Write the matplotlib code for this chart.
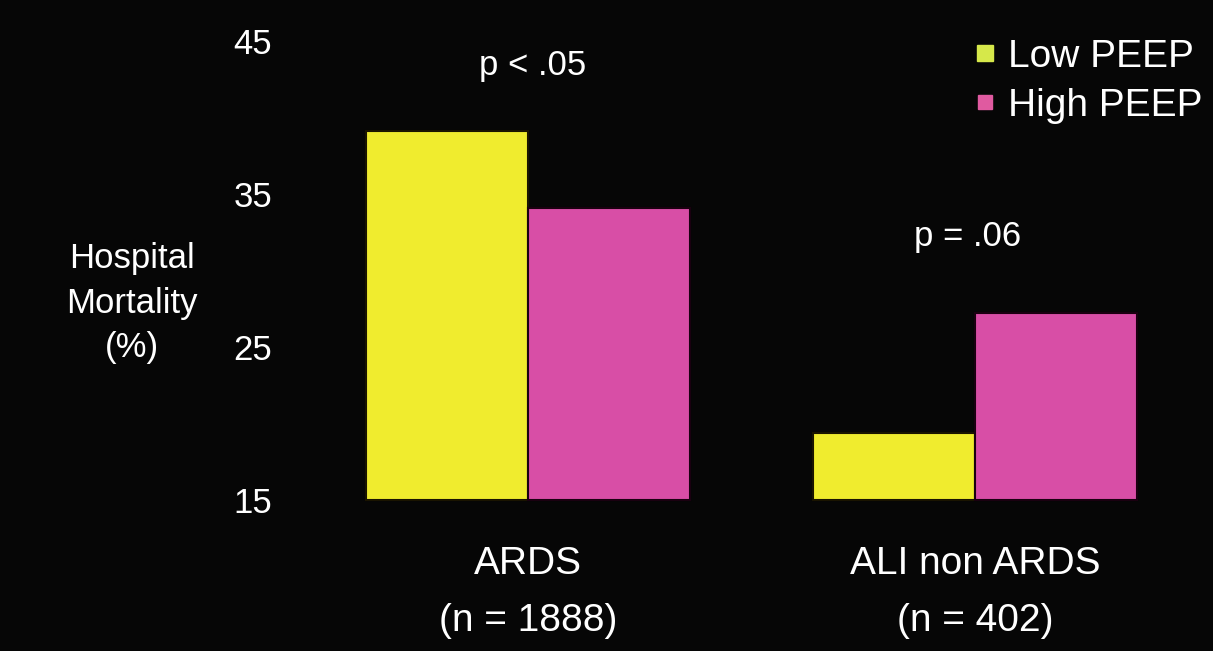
import matplotlib.pyplot as plt
from matplotlib.lines import Line2D
import numpy as np

plt.rcParams["font.family"] = ["Liberation Sans", "DejaVu Sans"]

categories = ["ARDS\n(n = 1888)", "ALI non ARDS\n(n = 402)"]
series_names = ["Low PEEP", "High PEEP"]
low_peep = [39.1, 19.4]
high_peep = [34.1, 27.2]
p_labels = ["p < .05", "p = .06"]
y_ticks = [15, 25, 35, 45]

BG = "#060606"
YELLOW = "#f0ec2e"
PINK = "#d84ea6"
W, H = 1213, 651

fig = plt.figure(figsize=(W / 100, H / 100), dpi=100, facecolor=BG)
# axes: value 15 sits at pixel row 500, value 45 at row 41
ax = fig.add_axes([300 / W, (H - 500) / H, (W - 300) / W, 459 / H])
ax.set_facecolor(BG)

x = np.arange(len(categories))
width = 0.362
base = y_ticks[0]
ax.bar(x - width / 2, np.array(low_peep) - base, width, bottom=base,
       color=YELLOW, edgecolor="#1a1400", linewidth=1.5, clip_on=False)
ax.bar(x + width / 2, np.array(high_peep) - base, width, bottom=base,
       color=PINK, edgecolor="#1a0010", linewidth=1.5, clip_on=False)

ax.set_xlim(-0.51, 1.532)
ax.set_ylim(15, 45)
ax.set_yticks(y_ticks)
ax.set_yticklabels([str(t) for t in y_ticks], color="white", fontsize=25)
ax.tick_params(axis="y", length=0, pad=20)
ax.set_xticks(x)
ax.set_xticklabels(categories, color="white", fontsize=28, linespacing=1.75)
ax.tick_params(axis="x", length=0, pad=33)
for spine in ax.spines.values():
    spine.set_visible(False)

# p-value annotations above each group (baseline offset above the taller bar)
p_offsets = [3.65, 4.4]
p_dx = [0.01, -0.016]
for xi, label, lo, hi, off, dx in zip(x, p_labels, low_peep, high_peep, p_offsets, p_dx):
    ax.text(xi + dx, max(lo, hi) + off, label, ha="center", va="baseline",
            color="white", fontsize=25)

fig.text(132 / W, 1 - 303 / H, "Hospital\nMortality\n(%)", ha="center", va="center",
         color="white", fontsize=25, linespacing=1.45)

handles = [
    Line2D([], [], marker="s", linestyle="none", markersize=11, color="#d6e84a"),
    Line2D([], [], marker="s", linestyle="none", markersize=10, color="#e05aa0"),
]
ax.legend(handles, series_names, loc="upper right",
          bbox_to_anchor=(1203 / W, 1 - 39 / H), bbox_transform=fig.transFigure,
          frameon=False, fontsize=28, labelcolor="white", handlelength=0.6,
          handletextpad=0.3, labelspacing=0.33, borderaxespad=0, borderpad=0)

fig.savefig("out.png", dpi=100, facecolor=BG)
